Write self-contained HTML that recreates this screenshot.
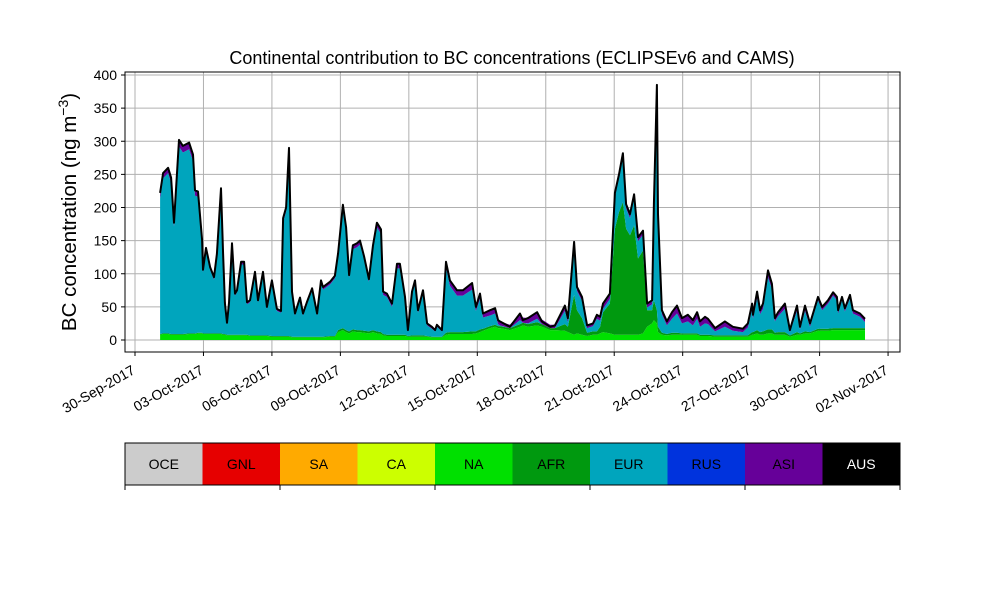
<!DOCTYPE html>
<html><head><meta charset="utf-8"><style>
body{margin:0;background:#fff;}
svg{display:block;font-family:"Liberation Sans","DejaVu Sans",sans-serif;}
</style></head><body>
<svg id="chart" width="1000" height="600" viewBox="0 0 1000 600" xmlns="http://www.w3.org/2000/svg">
<rect width="1000" height="600" fill="#fff"/>
<text x="512" y="64" font-size="18" text-anchor="middle">Continental contribution to BC concentrations (ECLIPSEv6 and CAMS)</text>
<text transform="translate(76,212) rotate(-90)" font-size="20.5" text-anchor="middle">BC concentration (ng m<tspan baseline-shift="super" font-size="14">−3</tspan>)</text>
<g id="grid"></g>
<g id="areas"></g>
<g id="axes"></g>
<g id="cbar"></g>
</svg>
<script>
const times=[1.10,1.23,1.45,1.58,1.71,1.93,2.10,2.37,2.54,2.63,
2.76,2.94,2.98,3.11,3.29,3.46,3.59,3.77,3.86,3.94,
4.03,4.12,4.25,4.38,4.47,4.65,4.78,4.91,5.04,5.26,
5.39,5.61,5.78,6.00,6.22,6.40,6.49,6.62,6.75,6.88,
7.01,7.23,7.36,7.54,7.76,7.98,8.15,8.24,8.55,8.76,
8.90,9.11,9.25,9.38,9.55,9.73,9.86,10.04,10.25,10.43,
10.60,10.78,10.87,11.04,11.26,11.48,11.61,11.83,11.96,12.14,
12.27,12.40,12.62,12.80,13.01,13.15,13.23,13.45,13.63,13.80,
14.11,14.37,14.77,14.94,15.12,15.25,15.56,15.78,15.91,15.99,
16.43,16.87,17.00,17.22,17.62,17.83,18.19,18.40,18.84,18.97,
19.24,19.37,19.59,19.81,20.07,20.24,20.38,20.51,20.81,21.03,
21.21,21.38,21.52,21.69,21.87,22.04,22.26,22.44,22.66,22.74,
22.87,22.92,23.09,23.31,23.53,23.75,23.97,24.23,24.45,24.63,
24.76,24.98,25.11,25.42,25.85,26.20,26.64,26.86,27.04,27.08,
27.26,27.39,27.52,27.74,27.91,28.04,28.18,28.48,28.70,29.01,
29.14,29.36,29.58,29.93,30.11,30.37,30.59,30.76,30.81,30.98,
31.11,31.33,31.46,31.77,31.99];
const total=[222,252,260,245,177,302,293,298,280,226,
224,151,106,139,110,95,130,229,130,56,
26,56,146,70,75,118,118,57,60,103,
60,103,50,90,47,44,184,200,290,73,
40,64,40,58,78,40,90,80,88,97,
131,204,170,98,143,146,150,126,92,143,
177,167,73,70,55,115,115,65,15,73,
90,45,75,25,20,15,23,15,118,90,
75,75,86,50,70,40,45,48,30,28,
20,40,30,33,42,28,20,22,52,33,
148,80,65,22,25,38,35,55,70,222,
250,282,205,190,220,155,165,55,60,205,
385,190,45,28,42,52,33,38,30,42,
28,35,32,18,28,20,17,25,55,38,
73,45,55,105,85,33,42,55,15,52,
20,52,25,65,50,60,72,65,45,65,
48,68,45,40,32];
const na=[8,9,9,8,8,8,8,9,9,9,
10,10,9,9,9,9,9,9,8,8,
7,7,7,7,7,7,7,7,6,6,
6,6,6,5,5,5,5,5,5,4,
4,4,4,4,4,4,4,4,5,5,
12,15,12,10,13,12,12,11,10,12,
10,9,7,6,6,6,6,6,5,5,
5,5,5,5,4,4,4,4,8,9,
9,9,9,10,12,14,18,20,18,18,
15,20,22,20,22,20,15,15,14,12,
8,10,8,6,8,8,10,12,10,8,
8,8,8,8,8,8,10,20,25,30,
25,12,8,7,8,8,8,8,8,8,
6,6,6,5,5,5,5,5,8,8,
10,8,8,10,10,8,8,8,5,8,
8,10,10,14,14,14,15,15,15,15,
15,15,15,15,15];
const afr=[1,1,1,1,1,1,1,1,1,1,
1,1,1,1,1,1,1,1,1,1,
1,1,1,1,1,1,1,1,1,1,
1,1,1,1,1,1,1,1,1,1,
1,1,1,1,1,1,1,1,1,1,
3,3,3,3,3,3,3,3,3,3,
3,3,2,2,2,2,2,2,1,2,
2,2,2,1,1,1,1,1,3,3,
3,3,4,3,4,3,3,3,3,3,
3,4,4,4,5,4,3,3,10,8,
60,35,25,5,5,5,10,30,45,160,
185,200,160,150,165,115,125,25,20,30,
20,8,3,2,3,3,2,2,2,2,
2,2,2,2,2,2,2,2,4,4,
5,4,5,6,6,3,4,4,2,4,
2,3,2,3,3,3,3,3,3,3,
3,3,3,3,3];
const asi=[8,8,8,8,6,10,10,10,10,8,
8,6,4,5,4,4,5,8,5,3,
2,3,5,3,3,4,4,3,3,4,
3,4,3,4,3,3,6,6,8,3,
3,3,3,3,4,3,4,4,4,4,
5,7,7,4,6,6,6,5,4,6,
7,7,5,5,5,7,7,5,2,4,
5,4,5,3,3,2,3,2,8,8,
8,8,10,6,8,6,8,8,6,6,
5,10,8,8,10,7,5,5,8,6,
8,6,6,4,4,6,6,8,8,6,
6,6,6,6,6,6,6,6,6,6,
8,6,6,6,10,12,8,10,8,10,
8,10,8,5,8,6,5,6,8,6,
10,6,8,10,8,5,6,8,3,8,
4,8,5,5,5,5,5,5,5,5,
5,5,5,5,5];
const yTicks=[0,50,100,150,200,250,300,350,400];
const xTickDays=[0,3,6,9,12,15,18,21,24,27,30,33];
const xTickLabels=["30-Sep-2017","03-Oct-2017","06-Oct-2017","09-Oct-2017","12-Oct-2017","15-Oct-2017","18-Oct-2017","21-Oct-2017","24-Oct-2017","27-Oct-2017","30-Oct-2017","02-Nov-2017"];
const regions=["OCE","GNL","SA","CA","NA","AFR","EUR","RUS","ASI","AUS"];
const regionColors=["#cccccc","#e60000","#ffaa00","#ccff00","#00e000","#00990f","#00a5bd","#0033dd","#660099","#000000"];

const NS="http://www.w3.org/2000/svg";
const L=125,R=900,T=72,B=352;
const X=t=>135+t*22.82;
const Y=v=>340-v*0.6625;
function mk(tag,parent,attrs){const e=document.createElementNS(NS,tag);for(const k in attrs)e.setAttribute(k,attrs[k]);parent.appendChild(e);return e;}
const grid=document.getElementById('grid'),areas=document.getElementById('areas'),axes=document.getElementById('axes'),cbar=document.getElementById('cbar');
yTicks.forEach(v=>{const l=mk('line',grid,{x1:L,x2:R,y1:Y(v),y2:Y(v),stroke:'#b0b0b0','stroke-width':1});


const tk=mk('line',axes,{x1:L-4,x2:L,y1:Y(v),y2:Y(v),stroke:'#000'});


const tx=mk('text',axes,{x:L-8,y:Y(v)+5,'font-size':14,'text-anchor':'end'});tx.textContent=v;

});
xTickDays.forEach((d,i)=>{const x=X(d);const l=mk('line',grid,{x1:x,x2:x,y1:T,y2:B,stroke:'#b0b0b0','stroke-width':1});


const tk=mk('line',axes,{x1:x,x2:x,y1:B,y2:B+4,stroke:'#000'});


const tx=mk('text',axes,{x:0,y:0,'font-size':14,'text-anchor':'end',transform:`translate(${x+1},${B+21}) rotate(-30)`});tx.textContent=xTickLabels[i];

});
const n=times.length;
const eur=total.map((v,i)=>Math.max(0,v-na[i]-afr[i]-asi[i]));
const layers=[["na",na,regionColors[4]],["afr",afr,regionColors[5]],["eur",eur,regionColors[6]],["asi",asi,regionColors[8]]];
let base=new Array(n).fill(0);
layers.forEach(([name,arr,col])=>{const top=base.map((b,i)=>b+arr[i]);
let d='M'+times.map((t,i)=>X(t).toFixed(1)+','+Y(top[i]).toFixed(1)).join('L');
for(let i=n-1;i>=0;i--)d+='L'+X(times[i]).toFixed(1)+','+Y(base[i]).toFixed(1);
const p=mk('path',areas,{d:d+'Z',fill:col,stroke:'none'});


base=top;});
const tl=mk('path',areas,{d:'M'+times.map((t,i)=>X(t).toFixed(1)+','+Y(total[i]).toFixed(1)).join('L'),fill:'none',stroke:'#000','stroke-width':2,'stroke-linejoin':'round'});


const frame=mk('rect',axes,{x:L,y:T,width:R-L,height:B-T,fill:'none',stroke:'#000','stroke-width':1});


const cw=(R-L)/regions.length;
regions.forEach((r,i)=>{const rc=mk('rect',cbar,{x:L+i*cw,y:443,width:cw,height:42,fill:regionColors[i]});


const tx=mk('text',cbar,{x:L+i*cw+cw/2,y:469,'font-size':14,'text-anchor':'middle',fill:(r==="AUS"?'#fff':'#000')});tx.textContent=r;

});
const cf=mk('rect',cbar,{x:L,y:443,width:R-L,height:42,fill:'none',stroke:'#000'});


for(let k=0;k<=5;k++){const x=L+k*2*cw;const t=mk('line',cbar,{x1:x,x2:x,y1:485,y2:490,stroke:'#000'});

}
</script>
</body></html>
